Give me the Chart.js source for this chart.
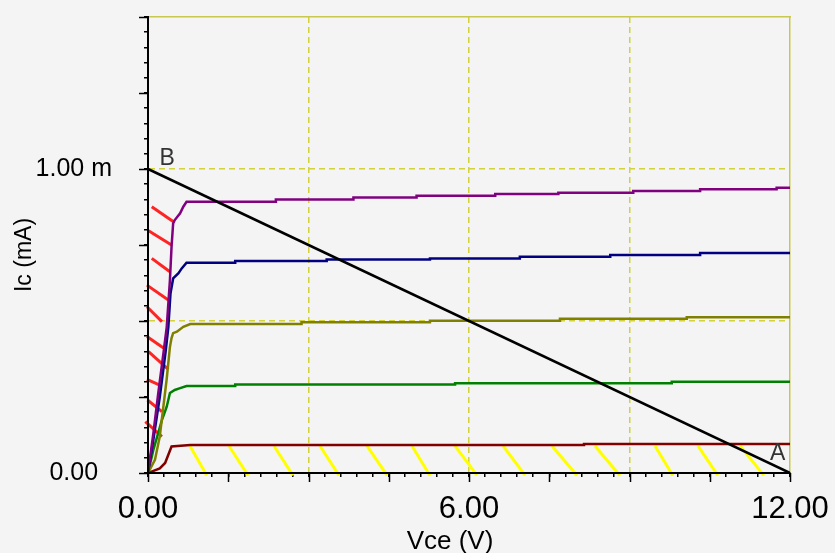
<!DOCTYPE html>
<html>
<head>
<meta charset="utf-8">
<script src="https://cdn.jsdelivr.net/npm/chart.js@4.4.1/dist/chart.umd.min.js"></script>
<style>
  html, body { margin: 0; padding: 0; background: #f4f4f4; }
  #wrap { width: 835px; height: 553px; }
</style>
</head>
<body>
<div id="wrap"><canvas id="chart" width="835" height="553"></canvas></div>
<script>
// axis ranges and labels
const vceRange = [0, 12];
const icRange = [0, 1.5];
const xTickLabels = [[0, '0.00'], [6, '6.00'], [12, '12.00']];
const yTickLabels = [[0, '0.00'], [1, '1.00 m']];
const xMajorTicks = [0, 1.5, 3, 4.5, 6, 7.5, 9, 10.5, 12];
const yMajorTicks = [0, 0.25, 0.5, 0.75, 1, 1.25, 1.5];
const xGridValues = [3, 6, 9];
const yGridValues = [0.5, 1];

// Ic(Vce) curves, [Vce, Ic(mA)]
const curveMaroon = [[0,0],[0.22,0.015],[0.32,0.033],[0.44,0.087],[0.79,0.092],[8.15,0.092],[8.15,0.095],[12,0.095]];
const curveGreen = [[0,0],[0.1,0.076],[0.26,0.174],[0.35,0.218],[0.41,0.263],[0.5,0.273],[0.6,0.279],[0.72,0.286],
  [1.63,0.286],[1.63,0.291],[5.74,0.291],[5.74,0.295],[9.79,0.295],[9.79,0.300],[12,0.300]];
const curveOlive = [[0,0],[0.13,0.043],[0.22,0.12],[0.35,0.31],[0.41,0.415],[0.44,0.444],[0.47,0.46],[0.54,0.465],[0.66,0.481],[0.79,0.49],
  [2.87,0.49],[2.87,0.496],[5.27,0.496],[5.27,0.501],[7.70,0.501],[7.70,0.507],[10.07,0.507],[10.07,0.512],[12,0.512]];
const curveNavy = [[0,0],[0.1,0.11],[0.22,0.25],[0.33,0.40],[0.38,0.48],[0.42,0.59],[0.47,0.64],[0.57,0.657],[0.63,0.673],[0.72,0.692],
  [1.63,0.692],[1.63,0.697],[3.34,0.697],[3.34,0.702],[5.27,0.702],[5.27,0.706],[6.95,0.706],[6.95,0.711],
  [8.64,0.711],[8.64,0.717],[10.32,0.717],[10.32,0.724],[12,0.724]];
const curvePurple = [[0,0],[0.1,0.13],[0.19,0.26],[0.3,0.41],[0.35,0.48],[0.41,0.635],[0.44,0.744],[0.47,0.821],[0.5,0.832],[0.6,0.854],[0.66,0.876],[0.72,0.892],
  [2.39,0.892],[2.39,0.9],[3.84,0.9],[3.84,0.906],[5.02,0.906],[5.02,0.912],[6.49,0.912],[6.49,0.918],[7.67,0.918],[7.67,0.922],
  [9.07,0.922],[9.07,0.928],[10.32,0.928],[10.32,0.933],[11.75,0.933],[11.75,0.938],[12,0.938]];
const loadLine = [[0,1.0],[12,0]];

// hatch segments [x1, y1, x2, y2]
const redHatches = [
  [0.07,0.876,0.47,0.827], [0.01,0.797,0.44,0.750], [0.07,0.706,0.41,0.662], [-0.02,0.618,0.38,0.569],
  [-0.02,0.547,0.26,0.498], [-0.02,0.449,0.29,0.411], [0.01,0.399,0.38,0.341], [-0.02,0.308,0.22,0.289],
  [-0.01,0.240,0.26,0.202], [-0.05,0.169,0.26,0.120]
];
const yellowStarts = [0.785, 1.514, 2.355, 3.215, 4.093, 4.935, 5.738, 6.636, 7.551, 8.355, 9.477, 10.28, 11.07];
const yellowEnds = [1.10, 1.87, 2.71, 3.57, 4.47, 5.27, 6.15, 7.05, 8.02, 8.82, 9.81, 10.65, 11.51];
const yellowTop = 0.089;
const yellowBottom = -0.008;

// point labels
const pointLabels = [['B', 0.36, 1.035], ['A', 11.77, 0.063]];

const gridColor = '#d2d23c';
const frameColor = '#c8c850';
const fontFamily = '"Liberation Sans", Arial, sans-serif';

const near = (a, b) => Math.abs(a - b) < 1e-6;
const labelFor = (list, v) => {
  const hit = list.find(l => near(l[0], v));
  return hit ? hit[1] : '';
};
const toPoints = arr => arr.map(p => ({ x: p[0], y: p[1] }));

function lineSet(data, color, width, extra) {
  return Object.assign({
    data: toPoints(data),
    showLine: true,
    borderColor: color,
    backgroundColor: color,
    borderWidth: width,
    pointRadius: 0,
    tension: 0
  }, extra || {});
}

// first dataset draws on top
const datasets = [
  lineSet(loadLine, '#000000', 2.5),
  lineSet(curvePurple, '#800080', 2.5),
  lineSet(curveNavy, '#000080', 2.5),
  lineSet(curveOlive, '#808000', 2.5),
  lineSet(curveGreen, '#008000', 2.5),
  lineSet(curveMaroon, '#800000', 2.5)
];
redHatches.forEach(h => {
  datasets.push(lineSet([[h[0], h[1]], [h[2], h[3]]], '#ff2424', 3, { clip: false }));
});
yellowStarts.forEach((x, i) => {
  datasets.push(lineSet([[x, yellowTop], [yellowEnds[i], yellowBottom]], '#ffff00', 3, { clip: false }));
});

// fixed scale sizes, no extra label padding
function fixSize(prop, size) {
  return s => {
    s[prop] = size;
    s.paddingTop = 0; s.paddingBottom = 0;
    s.paddingLeft = 0; s.paddingRight = 0;
  };
}

const backgroundPlugin = {
  id: 'bg',
  beforeDraw(chart) {
    const { ctx, width, height } = chart;
    ctx.save();
    ctx.fillStyle = '#f4f4f4';
    ctx.fillRect(0, 0, width, height);
    ctx.restore();
  }
};

// long ticks and text
const decorPlugin = {
  id: 'decor',
  afterDraw(chart) {
    const { ctx, scales: { x, y } } = chart;
    ctx.save();
    ctx.strokeStyle = '#000';
    ctx.lineWidth = 1.5;
    ctx.beginPath();
    xMajorTicks.forEach(v => {
      const px = Math.round(x.getPixelForValue(v)) + 0.5;
      ctx.moveTo(px, y.bottom);
      ctx.lineTo(px, y.bottom + 9);
    });
    yMajorTicks.forEach(v => {
      const py = Math.round(y.getPixelForValue(v)) + 0.5;
      ctx.moveTo(x.left - 9, py);
      ctx.lineTo(x.left, py);
    });
    ctx.stroke();

    ctx.fillStyle = '#000';
    ctx.textAlign = 'center';
    ctx.textBaseline = 'middle';
    ctx.font = '26px ' + fontFamily;
    ctx.fillText('Vce (V)', 450, 542);
    ctx.font = '23px ' + fontFamily;
    ctx.save();
    ctx.translate(25, 255);
    ctx.rotate(-Math.PI / 2);
    ctx.fillText('Ic (mA)', 0, 0);
    ctx.restore();

    ctx.fillStyle = '#333';
    pointLabels.forEach(l => {
      ctx.fillText(l[0], x.getPixelForValue(l[1]), y.getPixelForValue(l[2]));
    });
    ctx.restore();
  }
};

new Chart(document.getElementById('chart'), {
  type: 'scatter',
  data: { datasets },
  options: {
    responsive: false,
    animation: false,
    layout: { padding: { top: 17, right: 45, left: 0, bottom: 0 } },
    plugins: { legend: { display: false }, tooltip: { enabled: false } },
    scales: {
      x: {
        type: 'linear', position: 'bottom', min: vceRange[0], max: vceRange[1],
        afterFit: fixSize('height', 80),
        border: { color: '#000', width: 2, dash: [6, 4], z: 1 },
        grid: {
          color: c => xGridValues.some(v => near(v, c.tick.value)) ? gridColor : 'transparent',
          lineWidth: 1.5, tickLength: 4, tickColor: '#000', tickWidth: 1.5
        },
        ticks: {
          stepSize: 0.3, autoSkip: false, maxRotation: 0, padding: 14, color: '#000',
          font: { family: fontFamily, size: 31 },
          callback: v => labelFor(xTickLabels, v)
        }
      },
      y: {
        type: 'linear', position: 'left', min: icRange[0], max: icRange[1],
        afterFit: fixSize('width', 148),
        border: { color: '#000', width: 2, dash: [6, 4], z: 1 },
        grid: {
          color: c => yGridValues.some(v => near(v, c.tick.value)) ? gridColor : 'transparent',
          lineWidth: 1.5, tickLength: 4, tickColor: '#000', tickWidth: 1.5
        },
        ticks: {
          stepSize: 0.05, autoSkip: false, padding: 32, crossAlign: 'center', color: '#000',
          font: { family: fontFamily, size: 25 },
          callback: v => labelFor(yTickLabels, v)
        }
      },
      x2: {
        type: 'linear', position: 'top', min: vceRange[0], max: vceRange[1], display: true,
        afterFit: fixSize('height', 0),
        grid: { display: false, drawTicks: false },
        ticks: { display: false },
        border: { color: frameColor, width: 1.5 }
      },
      y2: {
        type: 'linear', position: 'right', min: icRange[0], max: icRange[1], display: true,
        afterFit: fixSize('width', 0),
        grid: { display: false, drawTicks: false },
        ticks: { display: false },
        border: { color: frameColor, width: 1.5 }
      }
    }
  },
  plugins: [backgroundPlugin, decorPlugin]
});
</script>
</body>
</html>
